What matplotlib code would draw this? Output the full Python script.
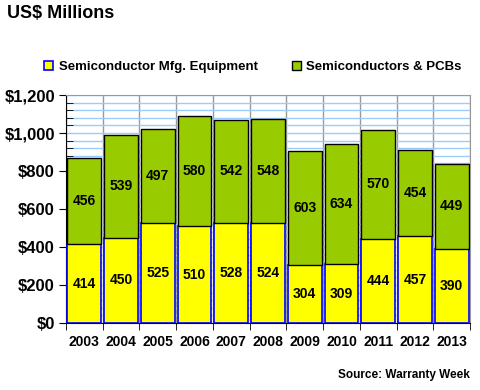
import numpy as np
import matplotlib
matplotlib.use("Agg")
import matplotlib.pyplot as plt
from matplotlib.ticker import MultipleLocator, FuncFormatter

plt.rcParams["font.family"] = ["Liberation Sans", "DejaVu Sans"]

years = ["2003", "2004", "2005", "2006", "2007", "2008",
         "2009", "2010", "2011", "2012", "2013"]
equipment = [414, 450, 525, 510, 528, 524, 304, 309, 444, 457, 390]
semis_pcbs = [456, 539, 497, 580, 542, 548, 603, 634, 570, 454, 449]

fig = plt.figure(figsize=(4.8, 3.9), dpi=100)
ax = fig.add_axes([66 / 480, 1 - 323 / 390, 404 / 480, 228 / 390])

x = np.arange(len(years))
w = 0.92
ax.bar(x, equipment, width=w, color="#ffff00", edgecolor="#0000ff",
       linewidth=1.2, zorder=3, label="Semiconductor Mfg. Equipment")
ax.bar(x, semis_pcbs, width=w, bottom=equipment, color="#99cc00",
       edgecolor="black", linewidth=1.0, zorder=3,
       label="Semiconductors & PCBs")

for i in range(len(years)):
    ax.text(x[i], equipment[i] / 2, str(equipment[i]), ha="center",
            va="center", fontsize=10, fontweight="bold", zorder=4)
    ax.text(x[i], equipment[i] + semis_pcbs[i] / 2, str(semis_pcbs[i]),
            ha="center", va="center", fontsize=10, fontweight="bold", zorder=4)

ax.set_xlim(-0.5, len(years) - 0.5)
ax.set_ylim(0, 1200)
ax.yaxis.set_major_locator(MultipleLocator(200))
ax.yaxis.set_minor_locator(MultipleLocator(40))
ax.yaxis.set_major_formatter(FuncFormatter(lambda v, p: f"${int(v):,}"))
ax.grid(axis="y", which="both", color="#99ccff", linewidth=1.0, zorder=0)

# vertical category separators
ax.set_xticks(x)
ax.set_xticklabels(years, fontsize=10, fontweight="bold")
ax.set_xticks(np.arange(len(years) + 1) - 0.5, minor=True)
ax.grid(axis="x", which="minor", color="#999999", linewidth=1.0, zorder=1)
ax.tick_params(axis="x", which="major", length=0, pad=9)
ax.tick_params(axis="x", which="minor", length=5, color="black", direction="out")
ax.tick_params(axis="y", which="major", length=5, labelsize=12, pad=3)
ax.tick_params(axis="y", which="minor", length=5, direction="in")
for lab in ax.get_yticklabels():
    lab.set_fontweight("bold")

ax.spines["top"].set_color("#999999")
ax.spines["right"].set_color("#999999")
ax.spines["left"].set_color("black")
ax.spines["bottom"].set_color("black")

fig.text(7 / 480, 1 - 14 / 390, "US$ Millions", fontsize=13,
         fontweight="bold", va="center", ha="left")

handles, labels = ax.get_legend_handles_labels()
leg = fig.legend(handles, labels, loc="center", ncol=2,
                 bbox_to_anchor=(253 / 480, 1 - 67 / 390), frameon=False,
                 fontsize=9.5, handlelength=0.7, handleheight=0.7,
                 columnspacing=2.6, handletextpad=0.4)
for t in leg.get_texts():
    t.set_fontweight("bold")

fig.text(470 / 480, 1 - 375 / 390, "Source: Warranty Week", fontsize=8.5,
         fontweight="bold", ha="right", va="center")

fig.savefig("out.png", dpi=100)
